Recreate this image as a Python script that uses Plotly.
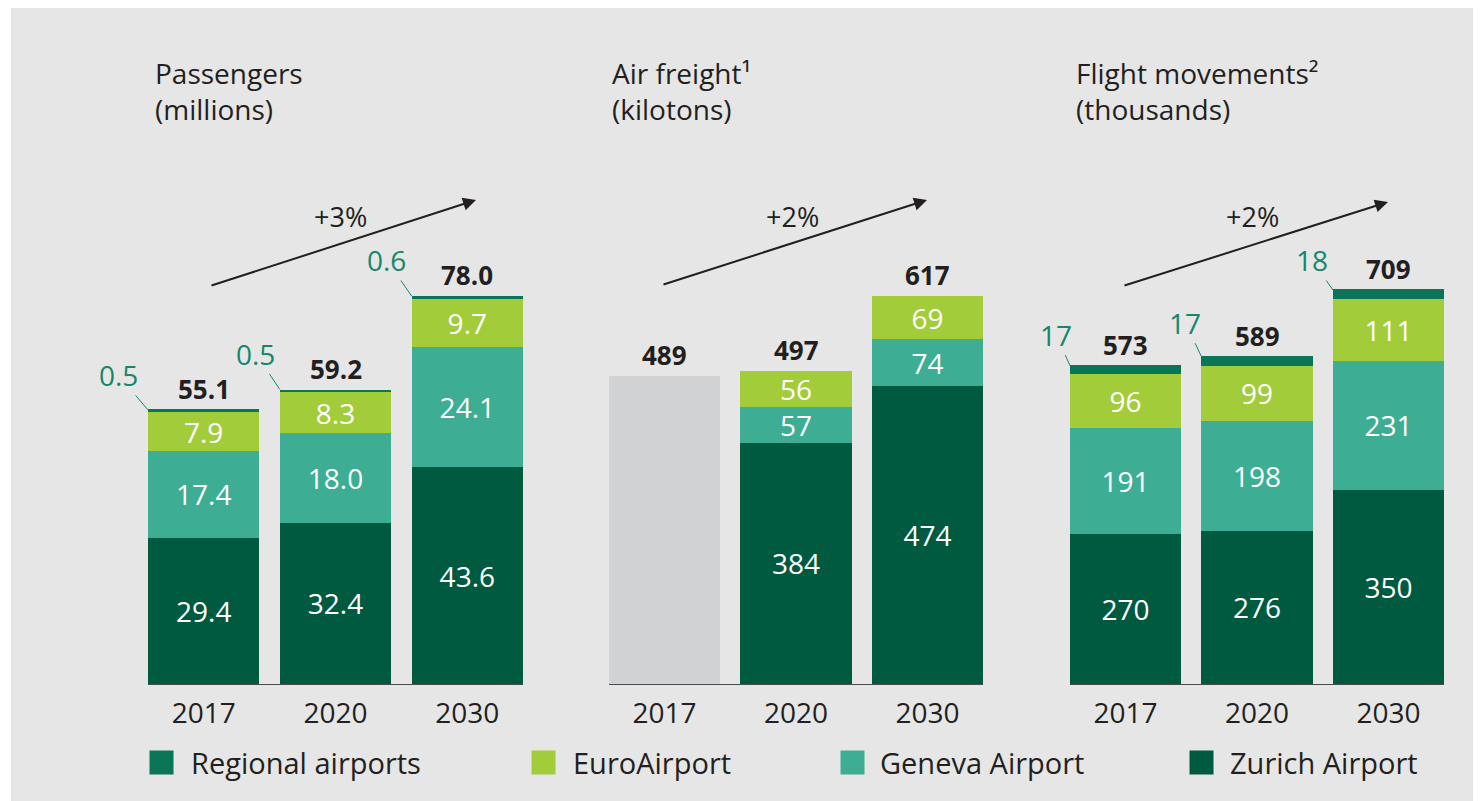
import plotly.graph_objects as go

W, H = 1481, 801
PAGE_OFFSET = 8  # default body margin of the html page

# ---------------- data ----------------
years = ["2017", "2020", "2030"]

pax_zurich = [29.4, 32.4, 43.6]
pax_geneva = [17.4, 18.0, 24.1]
pax_euro = [7.9, 8.3, 9.7]
pax_regional = [0.5, 0.5, 0.6]
pax_total = [55.1, 59.2, 78.0]

frt_zurich = [None, 384, 474]
frt_geneva = [None, 57, 74]
frt_euro = [None, 56, 69]
frt_regional = [None, None, None]
frt_2017 = [489, None, None]
frt_total = [489, 497, 617]

mov_zurich = [270, 276, 350]
mov_geneva = [191, 198, 231]
mov_euro = [96, 99, 111]
mov_regional = [17, 17, 18]
mov_total = [573, 589, 709]

growth_labels = ["+3%", "+2%", "+2%"]
titles = [("Passengers", "(millions)"),
          ("Air freight¹", "(kilotons)"),
          ("Flight movements²", "(thousands)")]
series_names = ["Zurich Airport", "Geneva Airport", "EuroAirport", "Regional airports"]
legend_order = ["Regional airports", "EuroAirport", "Geneva Airport", "Zurich Airport"]

# ---------------- style ----------------
FONT = "Open Sans"
TXT = "#231F20"
BG = "#E6E6E6"
GREEN_TXT = "#15876A"
COLORS = {"Zurich Airport": "#005A40", "Geneva Airport": "#3DAE93",
          "EuroAirport": "#A3CC3A", "Regional airports": "#0B7557"}
GREY = "#D1D2D4"


def px(x):
    return (x - PAGE_OFFSET) / W


def py(y):
    return 1 - (y - PAGE_OFFSET) / H


x_domains = [[px(148), px(523)], [px(609), px(983)], [px(1070), px(1444)]]
y_domain = [py(684), py(200)]
headroom = [484 / 388, 484 / 388, 484 / 394]
HALF = 0.4225

panels = [
    dict(data=[pax_zurich, pax_geneva, pax_euro, pax_regional], total=pax_total,
         fmt="{:.1f}", regional=pax_regional, extra=None),
    dict(data=[frt_zurich, frt_geneva, frt_euro, frt_regional], total=frt_total,
         fmt="{:.0f}", regional=None, extra=frt_2017),
    dict(data=[mov_zurich, mov_geneva, mov_euro, mov_regional], total=mov_total,
         fmt="{:.0f}", regional=mov_regional, extra=None),
]

fig = go.Figure()
annotations = []

for p, panel in enumerate(panels):
    n = "" if p == 0 else str(p + 1)
    xa, ya = "x" + n, "y" + n
    if panel["extra"] is not None:
        fig.add_trace(go.Bar(x=years, y=panel["extra"], marker_color=GREY,
                             marker_line_width=0, xaxis=xa, yaxis=ya,
                             showlegend=False, name="Total"))
    for s, vals in enumerate(panel["data"]):
        name = series_names[s]
        if name == "Regional airports":
            text = None
        else:
            text = ["" if v is None else panel["fmt"].format(v) for v in vals]
        fig.add_trace(go.Bar(
            x=years, y=vals, name=name, marker_color=COLORS[name],
            marker_line_width=0, xaxis=xa, yaxis=ya, showlegend=False,
            text=text, textposition="inside", insidetextanchor="middle",
            textangle=0, constraintext="none",
            textfont=dict(family=FONT, size=28, color="white"),
        ))
    # totals (numeric category index positions)
    for j, t in enumerate(panel["total"]):
        annotations.append(dict(
            x=j, y=t, xref=xa, yref=ya, text="<b>" + panel["fmt"].format(t) + "</b>",
            showarrow=False, xanchor="center", yanchor="bottom", yshift=1,
            font=dict(family=FONT, size=26, color=TXT)))
    # regional leader labels
    if panel["regional"] is not None:
        offsets = [(-30, -35), (-24, -36), (-25, -36)] if p == 0 else [(-14, -31), (-16, -34), (-21, -30)]
        for j, r in enumerate(panel["regional"]):
            annotations.append(dict(
                x=j - HALF, y=panel["total"][j], xref=xa, yref=ya,
                text=panel["fmt"].format(r), showarrow=True, arrowhead=0,
                arrowwidth=1, arrowcolor=GREEN_TXT, ax=offsets[j][0], ay=offsets[j][1],
                standoff=0, font=dict(family=FONT, size=28, color=GREEN_TXT)))

    fig.update_layout(**{
        "xaxis" + n: dict(domain=x_domains[p], range=[-HALF, 2 + HALF], type="category",
                          anchor=ya, showline=True, linecolor="#4A4A4A", linewidth=1,
                          ticks="", showgrid=False, zeroline=False,
                          tickfont=dict(family=FONT, size=28, color=TXT),
                          ticklabelstandoff=4, fixedrange=True),
        "yaxis" + n: dict(domain=y_domain, range=[0, max(panel["total"]) * headroom[p]],
                          anchor=xa, visible=False, showgrid=False, zeroline=False,
                          fixedrange=True),
    })

# titles (two lines in one text block)
title_x = [153, 610, 1074]
for p, (l1, l2) in enumerate(titles):
    annotations.append(dict(x=px(title_x[p]), y=py(91), xref="paper", yref="paper",
                            text=l1 + "<br>" + l2, showarrow=False, align="left",
                            xanchor="left", yanchor="middle",
                            font=dict(family=FONT, size=28, color=TXT)))

# growth arrows
arrows = [((476, 200), (210, 286), (340, 217)),
          ((927, 200), (662, 285), (792, 217)),
          ((1388, 202), (1123, 286), (1252, 217))]
for p, (tip, tail, lab) in enumerate(arrows):
    annotations.append(dict(x=px(tip[0]), y=py(tip[1]), xref="paper", yref="paper",
                            text="", showarrow=True, arrowhead=2, arrowsize=1.3,
                            arrowwidth=2, arrowcolor=TXT,
                            ax=tail[0] - tip[0], ay=tail[1] - tip[1]))
    annotations.append(dict(x=px(lab[0]), y=py(lab[1]), xref="paper", yref="paper",
                            text=growth_labels[p], showarrow=False,
                            xanchor="center", yanchor="middle",
                            font=dict(family=FONT, size=27, color=TXT)))

# legend
legend_sw = [149, 531, 840, 1189]
legend_tx = [189, 571, 878, 1228]
for k, name in enumerate(legend_order):
    annotations.append(dict(x=px(legend_sw[k]), y=py(762), xref="paper", yref="paper",
                            text=" ", showarrow=False, xanchor="left", yanchor="middle",
                            width=23, height=23, bgcolor=COLORS[name], borderpad=0,
                            font=dict(size=8)))
    annotations.append(dict(x=px(legend_tx[k]), y=py(762), xref="paper", yref="paper",
                            text=name, showarrow=False, xanchor="left", yanchor="middle",
                            font=dict(family=FONT, size=29, color=TXT)))

fig.update_layout(
    width=W, height=H, barmode="stack", bargap=1 - 2 * HALF,
    margin=dict(l=0, r=0, t=0, b=0),
    paper_bgcolor="white", plot_bgcolor="rgba(0,0,0,0)",
    showlegend=False, annotations=annotations,
    font=dict(family=FONT, color=TXT),
    shapes=[dict(type="rect", xref="paper", yref="paper", x0=px(11), x1=1,
                 y0=0, y1=py(7), fillcolor=BG, line_width=0, layer="below")],
)

fig.write_html("out.html")
